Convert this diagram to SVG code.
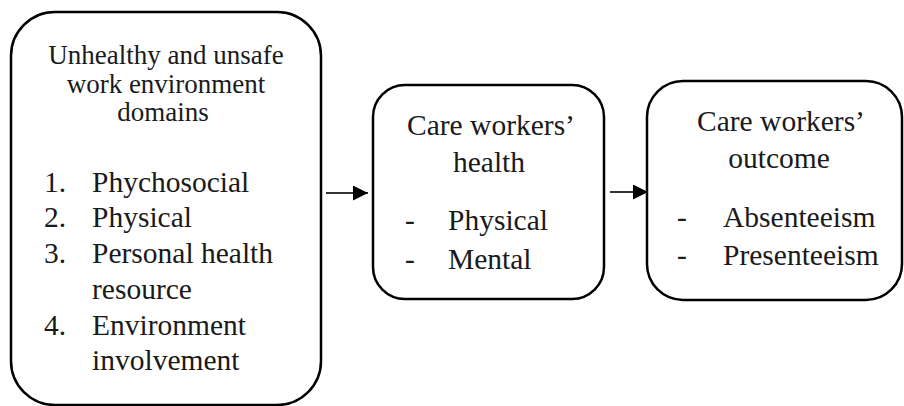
<svg xmlns="http://www.w3.org/2000/svg" width="904" height="406" viewBox="0 0 904 406">
  <style>
    .box { fill: #ffffff; stroke: #000000; stroke-width: 2.5; }
    text { font-family: 'Liberation Serif', 'Times New Roman', serif; fill: #1a1a1a; }
    .head1 { font-size: 27px; }
    .big { font-size: 29.5px; }
    .mid { text-anchor: middle; }
    .link { stroke: #333333; stroke-width: 2; fill: none; }
  </style>
  <defs>
    <marker id="arrow" viewBox="0 0 10 10" refX="10" refY="5" markerWidth="16" markerHeight="15" markerUnits="userSpaceOnUse" orient="auto">
      <path d="M0,0 L10,5 L0,10 z" fill="#000000"/>
    </marker>
  </defs>
  <rect width="904" height="406" fill="#ffffff"/>

  <g id="connectors">
    <line class="link" x1="326" y1="193" x2="368" y2="193" marker-end="url(#arrow)"/>
    <line class="link" x1="610" y1="192" x2="648" y2="192" marker-end="url(#arrow)"/>
  </g>

  <g id="work-environment">
    <rect class="box" x="11" y="12" width="310" height="393" rx="44" ry="44"/>
    <text class="head1 mid" x="166" y="64">Unhealthy and unsafe</text>
    <text class="head1 mid" x="166" y="93">work environment</text>
    <text class="head1 mid" x="163" y="121">domains</text>
    <text class="big" x="44" y="192">1.</text>
    <text class="big" x="92" y="192">Phychosocial</text>
    <text class="big" x="44" y="227">2.</text>
    <text class="big" x="92" y="227">Physical</text>
    <text class="big" x="44" y="263">3.</text>
    <text class="big" x="92" y="263">Personal health</text>
    <text class="big" x="92" y="299">resource</text>
    <text class="big" x="44" y="335">4.</text>
    <text class="big" x="92" y="335">Environment</text>
    <text class="big" x="92" y="370">involvement</text>
  </g>

  <g id="workers-health">
    <rect class="box" x="373" y="85" width="231" height="214" rx="32" ry="32"/>
    <text class="big mid" x="491" y="135">Care workers’</text>
    <text class="big mid" x="489" y="172">health</text>
    <text class="big" x="405" y="230">-</text>
    <text class="big" x="448" y="230">Physical</text>
    <text class="big" x="405" y="269">-</text>
    <text class="big" x="448" y="269">Mental</text>
  </g>

  <g id="workers-outcome">
    <rect class="box" x="647" y="81" width="255" height="219" rx="36" ry="36"/>
    <text class="big mid" x="781" y="131">Care workers’</text>
    <text class="big mid" x="779" y="168">outcome</text>
    <text class="big" x="677" y="227">-</text>
    <text class="big" x="723" y="227">Absenteeism</text>
    <text class="big" x="677" y="265">-</text>
    <text class="big" x="723" y="265">Presenteeism</text>
  </g>
</svg>
